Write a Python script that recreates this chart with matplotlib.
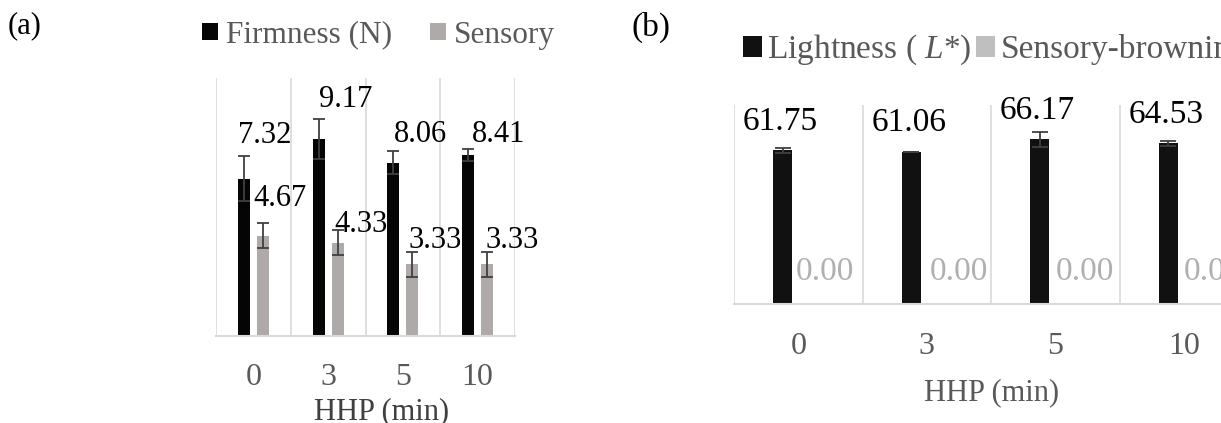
import matplotlib.pyplot as plt

# data
hhp = ["0", "3", "5", "10"]
firmness = [7.32, 9.17, 8.06, 8.41]
firmness_err = [1.06, 0.93, 0.53, 0.29]
sensory = [4.67, 4.33, 3.33, 3.33]
sensory_err = [0.58, 0.58, 0.58, 0.58]
lightness = [61.75, 61.06, 66.17, 64.53]
lightness_err = [0.9, 0.0, 3.0, 0.9]
browning = [0.00, 0.00, 0.00, 0.00]

# label offsets (pixels) - moved around by hand in the original
firm_off = [(21, 43), (27, 39), (27, 28), (30, 21)]
sens_off = [(17, 37), (23, 18), (23, 24), (25, 24)]
light_off = [(-2, 29)] * 4
brown_off = [(11, 32), (17, 32), (14, 32), (14, 32)]

plt.rcParams['font.family'] = ['Liberation Serif', 'DejaVu Serif']
plt.rcParams['mathtext.fontset'] = 'custom'
plt.rcParams['mathtext.rm'] = 'Liberation Serif'
plt.rcParams['mathtext.it'] = 'Liberation Serif:italic'

W, H = 1221, 423
fig = plt.figure(figsize=(W / 100, H / 100), dpi=100)

def px_axes(l, r, t, b):
    return fig.add_axes([l / W, (H - b) / H, (r - l) / W, (b - t) / H])

axA = px_axes(216, 515, 78, 336)
axB = px_axes(734, 1248, 105, 303.5)

x = range(len(hhp))

def setup(ax, ymax, tsize, pad, tcolor):
    ax.set_xlim(-0.5, 3.5)
    ax.set_ylim(0, ymax)
    ax.set_xticks(list(x))
    ax.set_xticklabels(hhp, fontsize=tsize, color=tcolor)
    ax.set_xticks([-0.5, 0.5, 1.5, 2.5, 3.5], minor=True)
    ax.tick_params(axis='x', which='both', length=0, pad=pad)
    ax.set_yticks([])
    ax.grid(which='minor', axis='x', color='#d9d9d9', lw=1.2)
    for s in ['left', 'right', 'top']:
        ax.spines[s].set_visible(False)
    ax.spines['bottom'].set_color('#d9d9d9')
    ax.spines['bottom'].set_linewidth(1.5)

# ---- panel (a)
setup(axA, 12, 23, 19.5, '#595959')
xa1 = [i - 0.127 for i in x]
xa2 = [i + 0.127 for i in x]
axA.bar(xa1, firmness, width=0.16, color='#050505', label='Firmness (N)', zorder=2,
        yerr=firmness_err, error_kw=dict(ecolor='#404040', elinewidth=1.3, capsize=4.3, capthick=1.3))
axA.bar(xa2, sensory, width=0.16, color='#aeaaaa', label='Sensory', zorder=2,
        yerr=sensory_err, error_kw=dict(ecolor='#404040', elinewidth=1.3, capsize=4.3, capthick=1.3))
for xi, v, o in zip(xa1, firmness, firm_off):
    axA.annotate(f"{v:.2f}", (xi, v), xytext=o, textcoords='offset pixels',
                 ha='center', va='center', fontsize=22, color='black', zorder=3)
for xi, v, o in zip(xa2, sensory, sens_off):
    axA.annotate(f"{v:.2f}", (xi, v), xytext=o, textcoords='offset pixels',
                 ha='center', va='center', fontsize=22, color='black', zorder=3)
axA.set_xlabel("HHP (min)", fontsize=22, color='#404040', va='center')
axA.xaxis.set_label_coords((381.5 - 216) / 299, (336 - 412) / 258)
axA.legend(loc='center left', bbox_to_anchor=(202 / W, 1 - 35 / H), bbox_transform=fig.transFigure,
           ncol=2, frameon=False, fontsize=22.5, labelcolor='#595959', borderpad=0, borderaxespad=0,
           handlelength=0.51, handleheight=0.45, handletextpad=0.26, columnspacing=1.2)

# ---- panel (b)
setup(axB, 80, 23, 20.8, '#595959')
xb1 = [i - 0.122 for i in x]
xb2 = [i + 0.122 for i in x]
axB.bar(xb1, lightness, width=0.148, color='#111111', label='Lightness ( $\\mathit{L}$*)', zorder=2,
        yerr=lightness_err, error_kw=dict(ecolor='#404040', elinewidth=1.3, capsize=6.1, capthick=1.3))
axB.bar(xb2, browning, width=0.148, color='#bfbfbf', label='Sensory-browning', zorder=2)
for xi, v, o in zip(xb1, lightness, light_off):
    axB.annotate(f"{v:.2f}", (xi, v), xytext=o, textcoords='offset pixels',
                 ha='center', va='center', fontsize=24, color='black', zorder=3)
for xi, v, o in zip(xb2, browning, brown_off):
    axB.annotate(f"{v:.2f}", (xi, v), xytext=o, textcoords='offset pixels',
                 ha='center', va='center', fontsize=24, color='#b0b0b0', zorder=3)
axB.set_xlabel("HHP (min)", fontsize=22, color='#595959', va='center')
axB.xaxis.set_label_coords((992 - 734) / 514, (303.5 - 393) / 198.5)
axB.legend(loc='center left', bbox_to_anchor=(743 / W, 1 - 50 / H), bbox_transform=fig.transFigure,
           ncol=2, frameon=False, fontsize=24, labelcolor='#595959', borderpad=0, borderaxespad=0,
           handlelength=0.57, handleheight=0.6, handletextpad=0.15, columnspacing=0.15)

fig.text(8 / W, 1 - 26 / H, "(a)", fontsize=22, ha='left', va='center')
fig.text(632 / W, 1 - 27 / H, "(b)", fontsize=24, ha='left', va='center')

fig.savefig("out.png", dpi=100)
